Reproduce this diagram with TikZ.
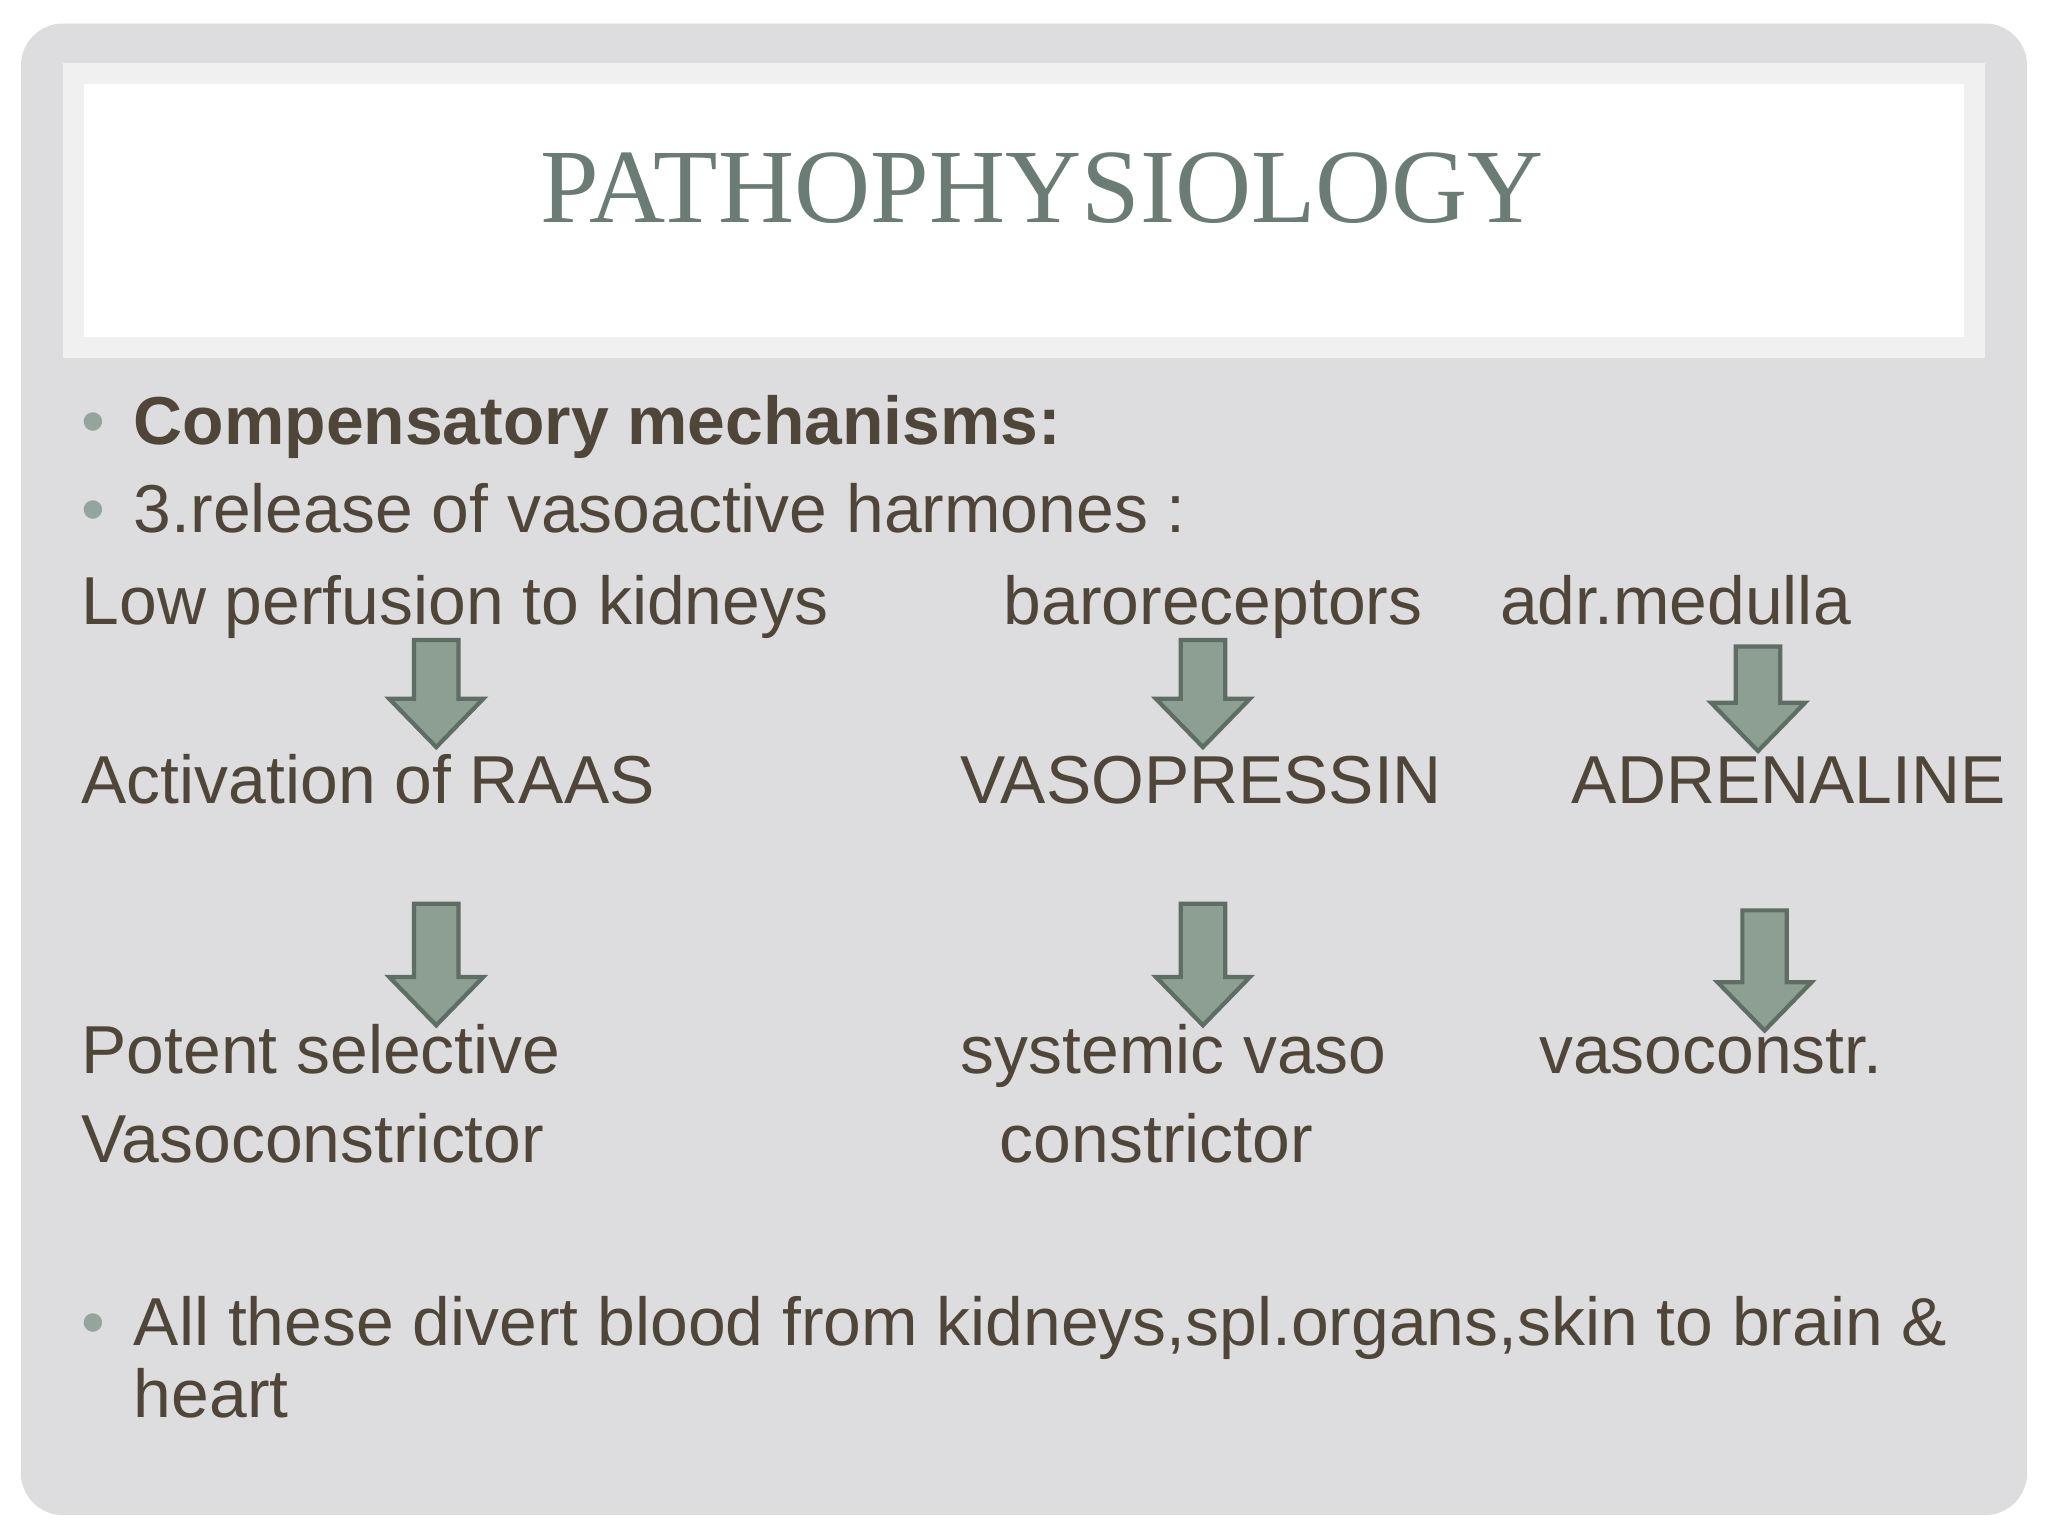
\documentclass[tikz,border=0pt]{standalone}
\usepackage{fontspec}
\setmainfont{Liberation Sans}
\newfontfamily\titlefont{Liberation Serif}
\begin{document}
\begin{tikzpicture}[x=0.013061cm,y=-0.013061cm,
  txt/.style={anchor=base west,inner sep=0,text=textbrown,font=\fontsize{19.3}{21}\selectfont},
  bul/.style={anchor=base west,inner sep=0,text=bulgray,font=\fontsize{19.3}{21}\selectfont},
  blockarrow/.style={fill=arrowfill,draw=arrowline,line width=1.2pt,line join=miter}]
\definecolor{textbrown}{HTML}{4F4639}
\definecolor{bulgray}{HTML}{93A59C}
\definecolor{titlecol}{HTML}{6A7C73}
\definecolor{panel}{HTML}{DDDCDE}
\definecolor{band}{HTML}{F0F0F0}
\definecolor{arrowfill}{HTML}{8D9E92}
\definecolor{arrowline}{HTML}{5F6E64}
\useasboundingbox (0,0) rectangle (1568,1176);
\fill[white] (0,0) rectangle (1568,1176);
\fill[panel,rounded corners=12] (16,18) rectangle (1552,1160);
\fill[band] (48,48) rectangle (1520,274);
\fill[white] (64,64) rectangle (1504,258);
\node[inner sep=0,text=titlecol,font=\titlefont\fontsize{30}{32}\selectfont] (title) at (798,144) {PATHOPHYSIOLOGY};
\node[bul] (b1) at (62,340) {•};
\node[txt,font=\bfseries\fontsize{19.3}{21}\selectfont] (comp) at (102,340) {Compensatory mechanisms:};
\node[bul] (b2) at (62,408) {•};
\node[txt] (rel) at (102,408) {3.release of vasoactive harmones :};
\node[txt] (low) at (62,478) {Low perfusion to kidneys};
\node[txt] (baro) at (768,478) {baroreceptors};
\node[txt] (adr) at (1148,478) {adr.medulla};
\node[txt] (raas) at (62,615) {Activation of RAAS};
\node[txt] (vaso) at (735,615) {VASOPRESSIN};
\node[txt] (adren) at (1203,615) {ADRENALINE};
\node[txt] (pot) at (62,822) {Potent selective};
\node[txt] (sys) at (735,822) {systemic vaso};
\node[txt] (vc) at (1178,822) {vasoconstr.};
\node[txt] (vcr) at (62,890) {Vasoconstrictor};
\node[txt] (con) at (765,890) {constrictor};
\node[bul] (b3) at (62,1030) {•};
\node[txt] (all) at (102,1030) {All these divert blood from kidneys,spl.organs,skin to brain \&};
\node[txt] (heart) at (102,1085) {heart};
\foreach \n/\cx/\ty/\by in {a1/334/490/572, a2/921/490/572, a3/1346/495/575, a4/334/692/785, a5/921/692/785, a6/1351/697/789}{
  \pgfmathsetmacro{\hy}{\by-37}
  \draw[blockarrow] (\cx-17,\ty) -- (\cx+17,\ty) -- (\cx+17,\hy) -- (\cx+36,\hy) -- (\cx,\by) -- (\cx-36,\hy) -- (\cx-17,\hy) -- cycle;
}
\end{tikzpicture}
\end{document}
